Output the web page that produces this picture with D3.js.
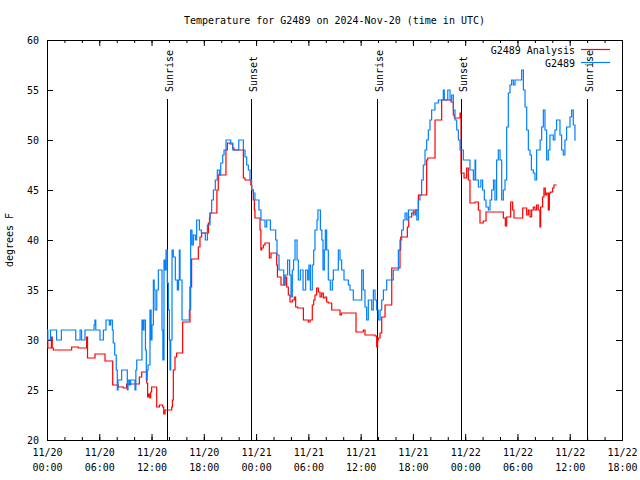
<!DOCTYPE html>
<html><head><meta charset="utf-8">
<script src="https://cdn.jsdelivr.net/npm/d3@7"></script>
<style>
body{margin:0;background:#fff}
text{font-family:"DejaVu Sans Mono",monospace;font-size:10px;fill:#000}
</style>
</head><body>
<svg id="chart" width="640" height="480"></svg>
<script>
// ---- data (hours since 2024-11-20 00:00 UTC) ----
const baseTime = Date.UTC(2024, 10, 20, 0, 0);
const titleText = "Temperature for G2489 on 2024-Nov-20 (time in UTC)";
const yLabel = "degrees F";
const seriesNames = ["G2489 Analysis", "G2489"];
const seriesColors = ["#ff0000", "#0080ff"];

const anaHours = [0,0.1,0.5,0.6,0.73,2.83,3.6,4.55,4.65,5.51,6.66,7.54,8.19,8.76,9.14,10.6,10.87,11.44,11.55,11.65,11.8,11.9,12.01,12.59,12.9,13.28,13.4,13.55,14.31,14.4,14.5,14.69,14.88,15.57,16.41,16.6,17.37,17.56,17.75,18.52,18.65,18.71,19.5,19.66,20.54,20.7,21.0,21.31,21.46,
22.54,22.73,23.4,23.49,23.68,23.8,23.87,24.45,24.55,24.64,24.83,25.02,25.52,25.71,26.36,26.45,26.86,27.32,27.51,27.7,27.89,28.16,28.39,28.54,28.77,29.43,30.0,30.19,30.45,30.61,30.76,30.95,31.15,31.34,31.53,31.72,31.91,32.1,32.29,32.68,
33.63,33.8,35.47,36.31,36.5,37.65,37.84,37.95,38.03,38.23,38.42,38.8,39.57,40.52,40.6,41.36,41.52,41.86,42.24,42.63,
43.58,43.7,44.54,45.3,46.38,46.64,46.76,47.41,47.52,47.87,48.17,48.36,48.55,49.13,49.51,49.7,50.08,50.39,52.38,52.61,52.76,53.22,53.45,53.6,54.6,55.06,55.25,55.44,55.63,55.82,56.01,56.2,56.39,56.58,56.66,56.89,57.04,57.2,57.35,57.54,57.66,57.81,58.04,58.19,58.5];
const anaTemps = [30,29.2,30.3,29.2,29,29.3,29.2,30.3,28.2,28.6,27.9,25.5,25.3,25.2,25.6,26.3,26.8,25.7,24.3,24.6,24.2,24.8,25.3,23.3,23.5,23.3,22.6,23,23.3,24,27,28.3,28.7,31.8,35.3,38.1,39.3,40.3,40.7,41.7,42.2,42.7,45,46.5,49,49.7,49.6,49.2,49,
46.2,46,45.5,45,44,43,42.2,41,39,39.2,39.5,39.7,38.2,38.7,37.5,36.3,35.5,36.3,35.3,34.5,33.8,34,34.3,33.3,33.2,32,31.8,32,33.5,34,34.5,35.2,34.8,34.3,34.7,34.2,34.3,33.8,33.7,33,
32.5,32.7,30.8,31,30.5,30.4,29.3,30,30.2,30.7,32.3,33.5,37.2,39,40.3,41.3,42.3,42.7,43,44.5,
48,48.2,52,54,53.8,52.5,52.2,52.7,46.7,46.2,47.2,46,43.7,43.8,43,41.7,41.9,42.8,42.2,41.4,42.3,43.8,43,42.2,43.2,42.5,43,42.3,43,43.3,43,43.5,43,41.3,43.3,44.3,45.2,44.5,44.7,43,44.7,44.8,45.2,45.5,45.5];

const obsHours = [0,0.1,0.4,1.1,1.65,3.3,3.8,3.97,4.36,5.4,5.5,5.6,6.08,6.47,6.77,7.15,7.3,7.5,7.6,7.77,7.95,8.07,8.15,8.57,9.22,9.3,9.45,9.6,10.1,10.2,10.3,
10.9,11.0,11.13,11.3,11.4,11.5,11.6,11.82,11.95,12.05,12.21,12.3,12.4,12.6,12.78,13.2,13.3,13.43,13.55,13.66,13.81,13.93,14.05,14.12,14.2,14.35,14.5,14.73,14.96,15.1,15.19,15.27,15.5,16.34,16.49,16.64,16.8,17.03,17.18,17.49,17.72,18.17,18.41,18.71,18.9,19.1,19.32,19.55,19.78,19.94,20.17,20.32,20.55,21.09,21.32,22.01,
22.54,22.73,22.92,23.11,23.3,23.49,23.68,23.87,24.33,24.56,25.02,25.22,25.64,26.25,26.4,26.63,27.17,27.32,27.62,27.85,28.01,28.16,28.3,28.47,28.7,28.85,29.08,29.39,29.69,29.92,30.07,30.23,30.45,30.61,30.76,30.99,31.1,31.38,31.55,31.68,31.83,31.95,32.1,32.29,32.52,32.75,32.87,
33.44,33.63,33.82,34.09,34.59,34.78,35.16,36.12,36.31,36.5,36.69,36.88,37.27,37.46,37.65,37.84,38.03,38.23,38.42,38.61,38.99,39.75,40.33,40.52,40.71,40.9,41.1,41.3,41.48,42.05,42.3,42.45,
42.62,42.81,43.0,43.19,43.39,43.58,43.77,43.96,44.15,44.53,44.92,45.49,45.6,46.0,46.26,46.45,46.64,46.83,47.03,47.22,47.41,47.79,48.55,48.94,49.13,49.2,49.51,49.8,50.0,50.2,50.39,50.66,50.85,51.04,51.25,51.42,51.61,51.8,52.0,52.19,52.38,52.57,52.76,52.95,53.14,53.33,53.53,53.72,54.48,54.68,54.87,55.06,55.25,55.44,55.6,55.82,56.01,56.2,56.6,56.78,56.97,57.16,57.35,57.54,57.73,58.11,58.3,58.49,58.88,59.07,59.26,59.45,59.64,60.03,60.22,60.41,60.6,60.7];
const obsTemps = [31,30,31,30,31,30,31,30,31,31.5,32,31,30,31,32,31.5,32,31,29.7,28.5,27,25,26,27,25,26,25.5,26,25,27,28,
32,31,32,29,26,27,27.5,33,30,31.5,36,35,33,35,37,31,28,38,37,39,35.7,33,30,27,30,39,38.3,36,35,36,39,36,32,33,41,39.5,40.5,40,42,41,40.7,40,41.5,42.7,44,45,46,47,46.5,47.7,48.5,49,50,49.7,49,50,
49,48.3,47.5,47,46,45,44.7,44,43,42,41.3,42,41,40,38.5,37,35.5,36.5,38,36.5,34.3,37,38,40,38,36,37,35,37,36,37.5,35,37.5,39,41,42,43,41,40,37,39,41,39,36,35,36,37,
39,38,37,36,35.5,35,34,37,35,33.3,32,34,33,35,34,33,32,33,34,35,36,37,39,40,41,42,42.7,42,43,42.5,43,42,
44,44.5,46,47.5,49,50,51,52,53,53.7,54,55,54,55,54,54.5,53,52,51,50,49,48,47,46,48,46,45.3,46,45,44,43.3,43,44,45,46,44,48,49,48,44,45,46,51.3,54.7,55.5,56,55.5,56,57,55,53.3,51,49,48.5,47,46.7,46,49,50,51.3,53,51,48,49,50.5,50,51,52,50.5,49,48.5,50,51.3,52.3,53,51.5,50,50];

const sunHours = [13.81, 23.47, 37.9, 47.52, 61.93];
const sunLabels = ["Sunrise", "Sunset", "Sunrise", "Sunset", "Sunrise"];
const yTicks = [20, 25, 30, 35, 40, 45, 50, 55, 60];
const xMajorHours = [0,6,12,18,24,30,36,42,48,54,60,66];
const xMinorHours = d3.range(0, 67, 2);

// ---- drawing ----
const svg = d3.select("#chart");
const L = 47, R = 622, T = 40, B = 440;
const toDate = h => new Date(baseTime + h * 3600e3);
const x = d3.scaleUtc().domain([toDate(0), toDate(66)]).range([L, R]);
const y = d3.scaleLinear().domain([20, 60]).range([B, T]);

// axes (gnuplot style: inward ticks, mirrored)
const fmtDay = d3.utcFormat("%m/%d"), fmtTime = d3.utcFormat("%H:%M");
function axisGroup(gen, tx, ty) {
  const g = svg.append("g").attr("transform", `translate(${tx},${ty})`).call(gen);
  g.select(".domain").remove();
  g.selectAll("line").attr("stroke", "#000");
  return g;
}
axisGroup(d3.axisBottom(x).tickValues(xMinorHours.map(toDate)).tickSize(-3).tickFormat(""), 0, B);
axisGroup(d3.axisTop(x).tickValues(xMinorHours.map(toDate)).tickSize(-3).tickFormat(""), 0, T);
axisGroup(d3.axisTop(x).tickValues(xMajorHours.map(toDate)).tickSize(-6).tickFormat(""), 0, T);
const bx = axisGroup(d3.axisBottom(x).tickValues(xMajorHours.map(toDate)).tickSize(-6).tickFormat(""), 0, B);
bx.selectAll(".tick").each(function(d) {
  const t = d3.select(this).append("text").attr("text-anchor", "middle");
  t.append("tspan").attr("x", 0).attr("y", 16).text(fmtDay(d));
  t.append("tspan").attr("x", 0).attr("y", 31).text(fmtTime(d));
});
const ly = axisGroup(d3.axisLeft(y).tickValues(yTicks).tickSize(-6).tickPadding(8).tickFormat(d3.format("d")), L, 0);
ly.selectAll("text").attr("font-family", "DejaVu Sans Mono").attr("font-size", 10).attr("dy", "0.35em");
axisGroup(d3.axisRight(y).tickValues(yTicks).tickSize(-6).tickFormat(""), R, 0);

svg.append("rect").attr("x", L + 0.5).attr("y", T + 0.5).attr("width", R - L).attr("height", B - T)
  .attr("fill", "none").attr("stroke", "#000");

// title & axis label
svg.append("text").attr("x", (L + R) / 2).attr("y", 24).attr("text-anchor", "middle").text(titleText);
svg.append("text").attr("transform", "translate(13,240) rotate(-90)").attr("text-anchor", "middle").text(yLabel);

// sunrise / sunset markers
sunHours.forEach((h, i) => {
  const px = Math.round(x(toDate(h))) + 0.5;
  svg.append("line").attr("x1", px).attr("x2", px).attr("y1", 99).attr("y2", B)
    .attr("stroke", "#000").attr("stroke-width", 1);
  svg.append("text").attr("transform", `translate(${px + 5},92) rotate(-90)`)
    .attr("text-anchor", "start").text(sunLabels[i]);
});

// series
const line = d3.line().curve(d3.curveStepAfter).x(d => x(toDate(d[0]))).y(d => y(d[1]));
const anaData = anaHours.map((h, i) => [h, anaTemps[i]]);
const obsData = obsHours.map((h, i) => [h, obsTemps[i]]);
[anaData, obsData].forEach((data, i) => {
  svg.append("path").datum(data).attr("d", line).attr("fill", "none")
    .attr("stroke", seriesColors[i]).attr("stroke-width", 1.2);
});

// legend
seriesNames.forEach((name, i) => {
  const ly0 = 49 + i * 13;
  svg.append("text").attr("x", 575).attr("y", ly0 + 4.5).attr("text-anchor", "end").text(name);
  svg.append("line").attr("x1", 581).attr("x2", 610).attr("y1", ly0 + 0.5).attr("y2", ly0 + 0.5)
    .attr("stroke", seriesColors[i]).attr("stroke-width", 1.2);
});
</script>
</body></html>
